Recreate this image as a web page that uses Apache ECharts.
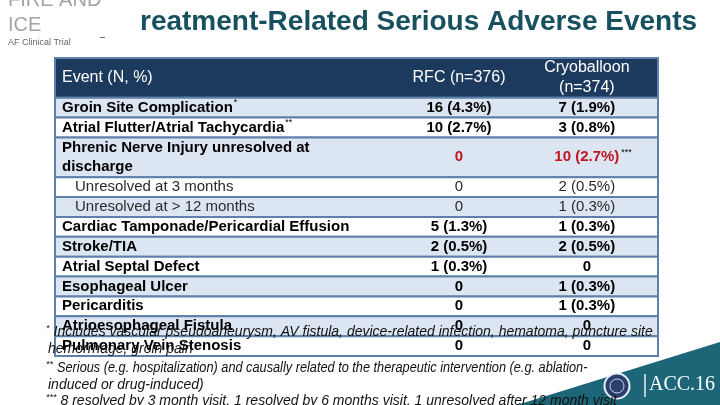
<!DOCTYPE html>
<html><head><meta charset="utf-8">
<script src="https://cdn.jsdelivr.net/npm/echarts@6/dist/echarts.min.js"></script>
<style>html,body{margin:0;padding:0;background:#fff}#c{width:720px;height:405px}</style>
</head><body><div id="c"></div>
<script>
// ---------- data ----------
const titleText = 'reatment-Related Serious Adverse Events';
const brandLines = ['FIRE AND', 'ICE'];
const brandSub = 'AF Clinical Trial';
const columnHeaders = ['Event (N, %)', 'RFC (n=376)', 'Cryoballoon\n(n=374)'];
const events = [
  'Groin Site Complication',
  'Atrial Flutter/Atrial Tachycardia',
  'Phrenic Nerve Injury unresolved at\ndischarge',
  'Unresolved at 3 months',
  'Unresolved at > 12 months',
  'Cardiac Tamponade/Pericardial Effusion',
  'Stroke/TIA',
  'Atrial Septal Defect',
  'Esophageal Ulcer',
  'Pericarditis',
  'Atrioesophageal Fistula',
  'Pulmonary Vein Stenosis'
];
const eventNotes = ['*', '**', '', '', '', '', '', '', '', '', '', ''];
const eventLevels = [0, 0, 0, 1, 1, 0, 0, 0, 0, 0, 0, 0];
const highlightRows = [2];
const rfcCounts = [16, 10, 0, 0, 0, 5, 2, 1, 0, 0, 0, 0];
const rfcPercents = [4.3, 2.7, null, null, null, 1.3, 0.5, 0.3, null, null, null, null];
const cryoCounts = [7, 3, 10, 2, 1, 1, 2, 0, 1, 1, 0, 0];
const cryoPercents = [1.9, 0.8, 2.7, 0.5, 0.3, 0.3, 0.5, null, 0.3, 0.3, null, null];
const cryoNotes = ['', '', '***', '', '', '', '', '', '', '', '', ''];
const footnoteMarks = ['*', '', '**', '', '***'];
const footnoteTexts = [
  'Includes vascular pseudoaneurysm, AV fistula, device-related infection, hematoma, puncture site',
  'hemorrhage, groin pain',
  'Serious (e.g. hospitalization) and causally related to the therapeutic intervention (e.g. ablation-',
  'induced or drug-induced)',
  '8 resolved by 3 month visit, 1 resolved by 6 months visit, 1 unresolved after 12 month visit'
];
const logoText = 'ACC.16';

// ---------- style ----------
const FF = '"Liberation Sans", Arial, sans-serif';
const NAVY = '#1c3a5e';
const LIGHT = '#dce6f2';
const BORDER = '#5f80aa';
const RED = '#c0141f';
const TEAL = '#1c6677';
const COL_CENTERS = [0, 0.67, 0.882];
const TEXT_LEFT = 7, INDENT = 13;
const FOOT_Y = [332, 349.5, 368, 385, 401];
const FOOT_SCALE = [1, 1, 0.91, 1, 1];

const mctx = document.createElement('canvas').getContext('2d');
function tw(t, font) { mctx.font = font; return mctx.measureText(t).width; }

function fmt(n, p) { return n === 0 ? '0' : n + ' (' + p.toFixed(1) + '%)'; }

// row layout (in text lines)
const headerLines = Math.max.apply(null, columnHeaders.map(h => h.split('\n').length));
const rows = [];
let line = headerLines;
events.forEach((e, i) => { const n = e.split('\n').length; rows.push([line, n, i]); line += n; });
const totalLines = line;

const chart = echarts.init(document.getElementById('c'), null, { renderer: 'canvas' });

function renderHeader(params, api) {
  const tl = api.coord([0, 0]), br = api.coord([1, headerLines]);
  const x = tl[0], y = tl[1], w = br[0] - x, h = br[1] - y;
  const kids = [{ type: 'rect', shape: { x, y, width: w, height: h }, style: { fill: NAVY, stroke: BORDER, lineWidth: 2 } }];
  const lh = h / headerLines;
  columnHeaders.forEach((t, c) => {
    const parts = t.split('\n');
    parts.forEach((p, k) => {
      const cy = y + h / 2 + (k - (parts.length - 1) / 2) * lh;
      const cx = c === 0 ? x + TEXT_LEFT : api.coord([COL_CENTERS[c], 0])[0];
      kids.push({ type: 'text', style: { text: p, x: cx, y: cy, fill: '#fff', font: 'normal 16px ' + FF, align: c === 0 ? 'left' : 'center', verticalAlign: 'middle' } });
    });
  });
  return { type: 'group', children: kids };
}

function renderRow(params, api) {
  const start = api.value(0), n = api.value(1), i = api.value(2);
  const tl = api.coord([0, start]), br = api.coord([1, start + n]);
  const x = tl[0], y = tl[1], w = br[0] - x, h = br[1] - y;
  const lh = h / n;
  const kids = [{ type: 'rect', shape: { x, y, width: w, height: h }, style: { fill: i % 2 === 0 ? LIGHT : '#fff', stroke: BORDER, lineWidth: 2 } }];
  const sub = eventLevels[i] > 0;
  const hl = highlightRows.indexOf(i) >= 0;
  const font = (sub ? 'normal' : 'bold') + ' 15px ' + FF;
  const col = sub ? '#2a2a2a' : '#000';
  const parts = events[i].split('\n');
  const lx = x + TEXT_LEFT + eventLevels[i] * INDENT;
  parts.forEach((p, k) => {
    const cy = y + lh * (k + 0.5);
    kids.push({ type: 'text', style: { text: p, x: lx, y: cy, fill: col, font, align: 'left', verticalAlign: 'middle' } });
    if (k === parts.length - 1 && eventNotes[i]) {
      kids.push({ type: 'text', style: { text: eventNotes[i], x: lx + tw(p, font) + 1, y: cy - 5, fill: col, font: 'normal 9px ' + FF, align: 'left', verticalAlign: 'middle' } });
    }
  });
  const cy = y + h / 2;
  const vals = [fmt(rfcCounts[i], rfcPercents[i]), fmt(cryoCounts[i], cryoPercents[i])];
  const notes = ['', cryoNotes[i]];
  vals.forEach((v, c) => {
    const cx = api.coord([COL_CENTERS[c + 1], 0])[0];
    kids.push({ type: 'text', style: { text: v, x: cx, y: cy, fill: hl ? RED : col, font, align: 'center', verticalAlign: 'middle' } });
    if (notes[c]) {
      const vw = tw(v, font);
      kids.push({ type: 'text', style: { text: notes[c], x: cx + vw / 2 + 2, y: cy - 5, fill: '#000', font: 'normal 9px ' + FF, align: 'left', verticalAlign: 'middle' } });
    }
  });
  return { type: 'group', children: kids };
}

const fnFont = 'italic 14px ' + FF;
const graphics = [
  { type: 'polygon', z: 5, shape: { points: [[517, 405], [720, 342], [720, 405]] }, style: { fill: TEAL } },
  { type: 'circle', z: 6, shape: { cx: 617, cy: 386, r: 12.5 }, style: { fill: '#2b3f6e', stroke: '#e8eef5', lineWidth: 2 } },
  { type: 'circle', z: 6, shape: { cx: 617, cy: 386, r: 7 }, style: { fill: 'none', stroke: '#c9d3e3', lineWidth: 1 } },
  { type: 'line', z: 6, shape: { x1: 645, y1: 374, x2: 645, y2: 397 }, style: { stroke: '#e8eef5', lineWidth: 1.5 } },
  { type: 'text', z: 6, style: { text: logoText, x: 649, y: 385, fill: '#fff', font: 'normal 20px "Liberation Serif", "DejaVu Serif", serif', align: 'left', verticalAlign: 'middle' } },
  { type: 'text', z: 6, style: { text: brandLines[0], x: 8, y: 0, fill: '#a3a3a3', font: 'normal 20px ' + FF, align: 'left', verticalAlign: 'middle' } },
  { type: 'text', z: 6, style: { text: brandLines[1], x: 8, y: 25, fill: '#a3a3a3', font: 'normal 20px ' + FF, align: 'left', verticalAlign: 'middle' } },
  { type: 'text', z: 6, style: { text: brandSub, x: 8, y: 42.5, fill: '#666', font: 'normal 9px ' + FF, align: 'left', verticalAlign: 'middle' } },
  { type: 'line', z: 6, shape: { x1: 100, y1: 37.5, x2: 105, y2: 37.5 }, style: { stroke: '#777', lineWidth: 1 } },
  { type: 'text', z: 6, style: { text: titleText, x: 140, y: 22.5, fill: '#17505f', font: 'bold 28px ' + FF, align: 'left', verticalAlign: 'middle' } }
];
footnoteTexts.forEach((t, k) => {
  const mark = footnoteMarks[k];
  const mx = 46;
  if (mark) graphics.push({ type: 'text', z: 100, style: { text: mark, x: mx, y: FOOT_Y[k] - 4, fill: '#111', font: 'italic 9px ' + FF, align: 'left', verticalAlign: 'middle' } });
  const tx = mark ? mx + tw(mark, 'italic 9px ' + FF) + 4 : 48;
  graphics.push({ type: 'text', z: 100, x: tx, y: FOOT_Y[k], scaleX: FOOT_SCALE[k], style: { text: t, x: 0, y: 0, fill: '#111', font: fnFont, align: 'left', verticalAlign: 'middle' } });
});

chart.setOption({
  animation: false,
  backgroundColor: '#fff',
  grid: { left: 55, right: 62, top: 58, bottom: 49 },
  xAxis: { type: 'value', min: 0, max: 1, show: false },
  yAxis: { type: 'value', min: 0, max: totalLines, inverse: true, show: false },
  graphic: { elements: graphics },
  series: [
    { type: 'custom', coordinateSystem: 'cartesian2d', renderItem: renderHeader, data: [[0, headerLines]], silent: true, clip: false },
    { type: 'custom', coordinateSystem: 'cartesian2d', renderItem: renderRow, data: rows, silent: true, clip: false,
      encode: { x: [], y: [0] } }
  ]
});
</script></body></html>
